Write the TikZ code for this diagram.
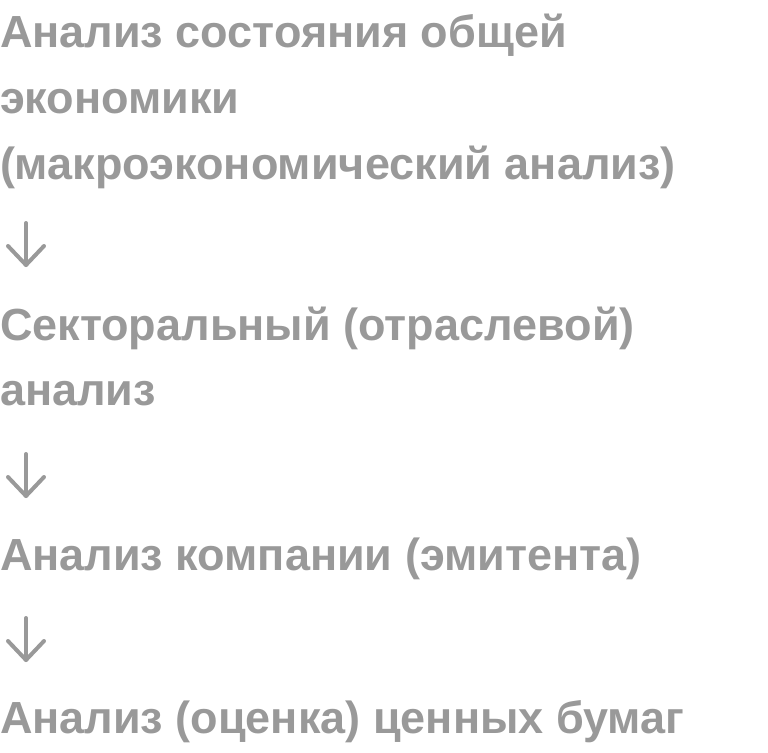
\documentclass[tikz,border=0pt]{standalone}
\usepackage{fontspec}
\setmainfont{Liberation Sans}
\usetikzlibrary{calc}
\definecolor{txtgray}{HTML}{999999}
\begin{document}
\begin{tikzpicture}[x=1pt,y=-1pt,
  lbl/.style={anchor=base west,inner sep=0pt,outer sep=0pt,text=txtgray,
    font=\fontsize{45}{54}\selectfont\bfseries},
  arr/.style={draw=txtgray,line width=4pt,line cap=round,line join=round}]
\useasboundingbox (0,0) rectangle (768,752);
\node[lbl] (l1) at (0,48) {Анализ состояния общей};
\node[lbl] (l2) at (0,113) {экономики};
\node[lbl] (l3) at (0,179) {(макроэкономический анализ)};
\node[lbl] (l4) at (0,340) {Секторальный (отраслевой)};
\node[lbl] (l5) at (0,405) {анализ};
\node[lbl] (l6) at (0,570) {Анализ компании (эмитента)};
\node[lbl] (l7) at (0,733) {Анализ (оценка) ценных бумаг};
\coordinate (a1s) at (26,223);
\coordinate (a1e) at (26,265);
\coordinate (a2s) at (26,454);
\coordinate (a2e) at (26,496);
\coordinate (a3s) at (26,618);
\coordinate (a3e) at (26,660);
\foreach \s/\e in {a1s/a1e,a2s/a2e,a3s/a3e}{
  \draw[arr] (\s) -- (\e);
  \draw[arr] ($(\e)+(-18,-19)$) -- (\e) -- ($(\e)+(18,-19)$);
}
\end{tikzpicture}
\end{document}
